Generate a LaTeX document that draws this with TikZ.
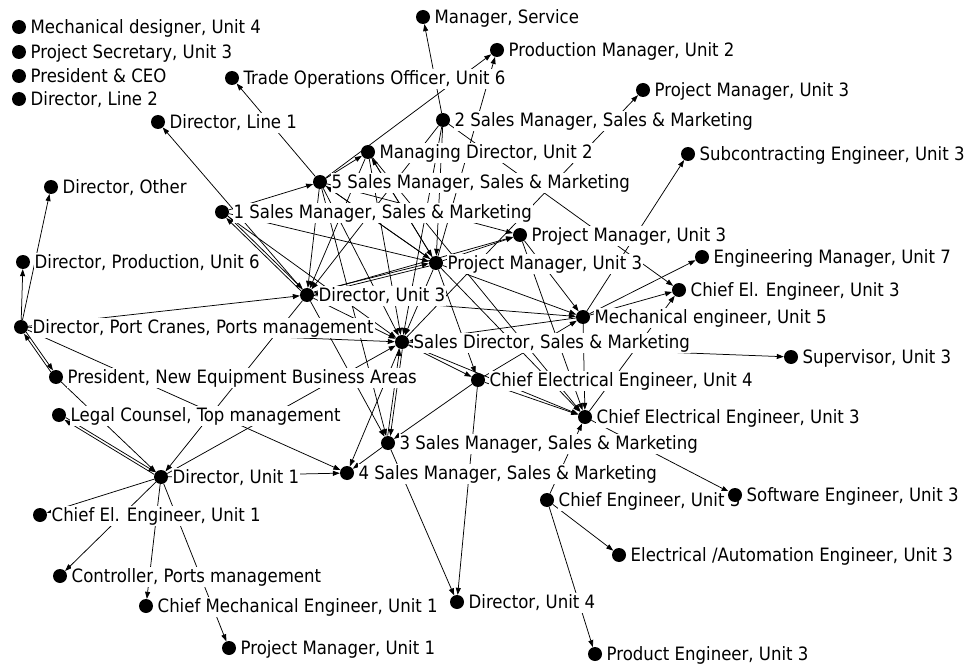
\documentclass[tikz,border=0pt]{standalone}
\usepackage{fontspec}
\newfontfamily\labfont{DejaVu Sans Condensed}
\usetikzlibrary{arrows.meta}
\pgfdeclarelayer{bg}
\pgfdeclarelayer{fore}
\pgfsetlayers{bg,main,fore}

\tikzset{
  dot/.style={circle, fill=black, inner sep=0pt, minimum size=14pt},
  lbl/.style={anchor=base west, fill=white, inner xsep=1pt, inner ysep=0.5pt,
               text height=15.5pt, text depth=3.5pt,
               font=\labfont\fontsize{18.4}{21}\selectfont},
  tie/.style={draw=black, line width=0.75pt, -{Triangle[length=7pt,width=5pt]}},
}

% actor: dot on the top layer, white-backed label to its right
\newcommand\actor[4]{%
  \begin{pgfonlayer}{fore}\node[dot] (#1) at (#2,#3) {};\end{pgfonlayer}%
  \node[lbl] (#1-t) at ({#2+10.5},{#3+6.8}) {#4};%
}

\begin{document}
\begin{tikzpicture}[x=1pt, y=-1pt]
\useasboundingbox (0,0) rectangle (970,666);

% isolates
\actor{md4}{19}{27}{Mechanical designer, Unit 4}
\actor{ps3}{19}{52}{Project Secretary, Unit 3}
\actor{ceo}{19}{76}{President \& CEO}
\actor{dl2}{19}{99}{Director, Line 2}

% network
\actor{too}{232}{78}{Trade Operations Officer, Unit 6}
\actor{dl1}{158}{122}{Director, Line 1}
\actor{ms}{423}{17}{Manager, Service}
\actor{pm2}{497}{50}{Production Manager, Unit 2}
\actor{pmA}{643}{90}{Project Manager, Unit 3}
\actor{sm2}{443}{120}{2 Sales Manager, Sales \& Marketing}
\actor{mdu2}{368}{152}{Managing Director, Unit 2}
\actor{sm5}{320}{182}{5 Sales Manager, Sales \& Marketing}
\actor{sub}{688}{154}{Subcontracting Engineer, Unit 3}
\actor{dot}{51}{187}{Director, Other}
\actor{sm1}{222}{212}{1 Sales Manager, Sales \& Marketing}
\actor{pmB}{520}{235}{Project Manager, Unit 3}
\actor{pmC}{436}{263}{Project Manager, Unit 3}
\actor{em7}{702}{257}{Engineering Manager, Unit 7}
\actor{dpu6}{23}{262}{Director, Production, Unit 6}
\actor{du3}{307}{295}{Director, Unit 3}
\actor{cee3}{679}{290}{Chief El. Engineer, Unit 3}
\actor{dpc}{21}{327}{Director, Port Cranes, Ports management}
\actor{me5}{583}{317}{Mechanical engineer, Unit 5}
\actor{sd}{402}{342}{Sales Director, Sales \& Marketing}
\actor{sup}{791}{357}{Supervisor, Unit 3}
\actor{pne}{56}{377}{President, New Equipment Business Areas}
\actor{ce4}{478}{380}{Chief Electrical Engineer, Unit 4}
\actor{lc}{59}{415}{Legal Counsel, Top management}
\actor{ceu3}{585}{417}{Chief Electrical Engineer, Unit 3}
\actor{sm3}{388}{443}{3 Sales Manager, Sales \& Marketing}
\actor{du1}{161}{477}{Director, Unit 1}
\actor{sm4}{347}{473}{4 Sales Manager, Sales \& Marketing}
\actor{chf3}{547}{500}{Chief Engineer, Unit 3}
\actor{sw3}{735}{495}{Software Engineer, Unit 3}
\actor{ce1}{40}{515}{Chief El. Engineer, Unit 1}
\actor{ea3}{619}{555}{Electrical /Automation Engineer, Unit 3}
\actor{ctl}{60}{576}{Controller, Ports management}
\actor{cme1}{146}{606}{Chief Mechanical Engineer, Unit 1}
\actor{du4}{457}{602}{Director, Unit 4}
\actor{pm1}{229}{648}{Project Manager, Unit 1}
\actor{pe3}{595}{654}{Product Engineer, Unit 3}

\begin{pgfonlayer}{bg}
% one-way ties
\foreach \a/\b in {
  sm2/ms, sm5/pm2, pmC/pm2, sd/pmA, me5/sub, sm5/too, du3/dl1,
  dpc/dot, dpc/dpu6, dpc/du3, dpc/sd, dpc/sm4,
  pne/du1, du3/du1, du1/sd, du1/sm4, du1/ce1, du1/ctl, du1/cme1, du1/pm1,
  sm3/sm4, sm3/du4, ce4/du4, sd/sm4, du3/sm3, sm5/sm3, ce4/sm3,
  sm1/sm5, sm1/pmC, sm1/sd, sm5/pmB, du3/pmB, pmC/pmB, sm5/mdu2,
  pmB/me5, pmC/me5, pmB/ceu3, du3/me5, me5/sd, me5/ceu3, me5/em7, me5/cee3,
  ceu3/cee3, ceu3/sw3, chf3/ceu3, chf3/ea3, chf3/pe3,
  sd/ce4, sd/ceu3, ce4/ceu3, sd/sup,
  sm5/du3, sm5/pmC, sm5/sd, mdu2/du3, mdu2/pmC, mdu2/sd, mdu2/ceu3,
  sm2/du3, sm2/pmC, sm2/cee3, sm2/sd, du3/sd,
  pmC/ce4, pmC/ceu3, pmC/sd, ce4/me5, pmC/sm5, pmC/mdu2}
  \draw[tie] (\a) -- (\b);

% reciprocated ties, drawn as two parallel lines
\draw[tie, transform canvas={shift={(1.1pt,0.75pt)}}] (dpc) -- (pne);
\draw[tie, transform canvas={shift={(-1.1pt,-0.75pt)}}] (pne) -- (dpc);
\draw[tie, transform canvas={shift={(0.7pt,1.1pt)}}] (lc) -- (du1);
\draw[tie, transform canvas={shift={(-0.7pt,-1.1pt)}}] (du1) -- (lc);
\draw[tie, transform canvas={shift={(0.9pt,0.9pt)}}] (sm1) -- (du3);
\draw[tie, transform canvas={shift={(-0.9pt,-0.9pt)}}] (du3) -- (sm1);
\draw[tie, transform canvas={shift={(-0.3pt,1.25pt)}}] (du3) -- (pmC);
\draw[tie, transform canvas={shift={(0.3pt,-1.25pt)}}] (pmC) -- (du3);
\draw[tie, transform canvas={shift={(-1.3pt,0.2pt)}}] (sm3) -- (sd);
\draw[tie, transform canvas={shift={(1.3pt,-0.2pt)}}] (sd) -- (sm3);
\end{pgfonlayer}
\end{tikzpicture}
\end{document}
